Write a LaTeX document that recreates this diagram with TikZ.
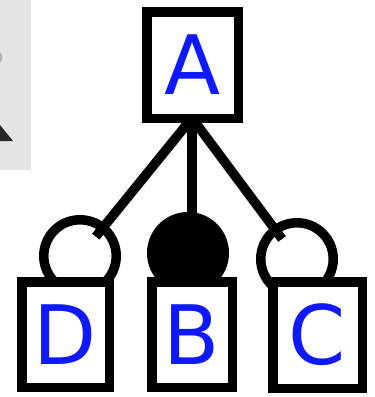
\documentclass[tikz,border=0pt]{standalone}
\usepackage{fontspec}
\setmainfont{DejaVu Sans}
\usetikzlibrary{calc}
\definecolor{letterblue}{RGB}{15,25,255}
\definecolor{panelgray}{RGB}{229,229,229}
\definecolor{icondark}{RGB}{40,40,40}
\begin{document}
\begin{tikzpicture}[x=1pt,y=-1pt,
  lw/.style={line width=9.5pt},
  letterbox/.style={lw,draw=black,fill=white,rectangle,inner sep=0pt,
    text=letterblue,font=\fontsize{82}{82}\selectfont},
  ring/.style={lw,draw=black,circle,inner sep=0pt,minimum size=72.5pt},
  link/.style={lw,line cap=butt}]
\useasboundingbox (0,0) rectangle (375,397);
% cropped screenshot panel at top left
\fill[panelgray] (0,0) rectangle (31,170);
\fill[icondark] (0,125) -- (13,141) -- (0,141) -- cycle;
\fill[gray!60] (0,52) .. controls (3,55) and (3,60) .. (0,63) -- cycle;
% junction under A
\coordinate (apex) at (192,118);
% circles
\node[ring] (cD) at (80,256) {};
\node[ring,fill=black] (cB) at (188,253) {};
\node[ring] (cC) at (297,259) {};
% connectors
\draw[link] (apex) -- ($(cD)!25pt!(apex)$);
\draw[link] (apex) -- (192,216);
\draw[link] (apex) -- ($(cC)!25pt!(apex)$);
% boxes
\node[letterbox,minimum width=91.5pt,minimum height=106.5pt] (A) at (192.5,65) {A};
\node[letterbox,minimum width=87.5pt,minimum height=105.5pt] (D) at (65.5,334.5) {D};
\node[letterbox,minimum width=80.5pt,minimum height=105.5pt] (B) at (192,334.5) {B};
\node[letterbox,minimum width=89.5pt,minimum height=106.5pt] (C) at (317.5,335) {C};
\end{tikzpicture}
\end{document}
